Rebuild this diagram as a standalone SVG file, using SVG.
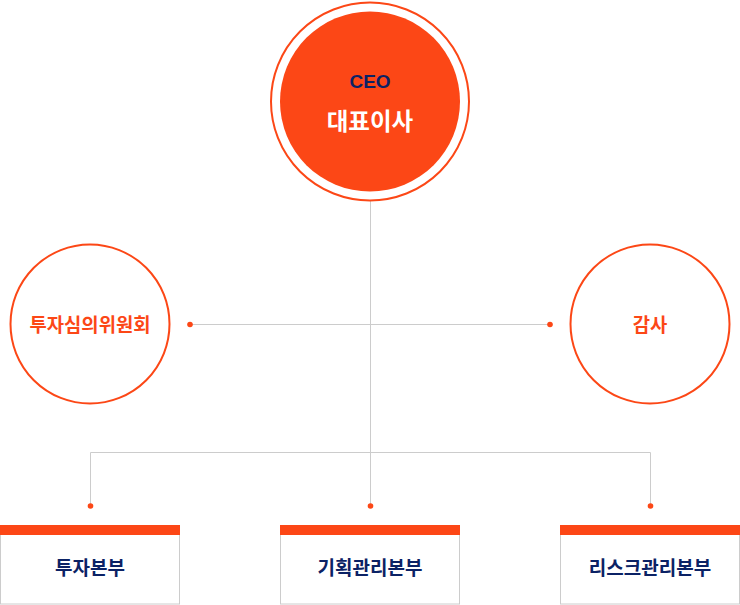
<svg xmlns="http://www.w3.org/2000/svg" width="740" height="605" viewBox="0 0 740 605">
<style>
.line{fill:none;stroke:#cccccc;stroke-width:1}
.dot{fill:#fc4716}
.ring{fill:#fff;stroke:#fc4716;stroke-width:2}
.kr{font-family:"Noto Sans CJK KR","Noto Sans",sans-serif;font-weight:bold;text-anchor:middle}
.org{fill:#fc4716;font-size:18.8px}
.navy{fill:#0b2265;font-size:19px}
.bar{fill:#fc4716}
.box{fill:#fff;stroke:#cccccc;stroke-width:1}
</style>
<rect width="740" height="605" fill="#fff"/>
<g id="connectors">
<path class="line" d="M370.5 201 V506"/>
<path class="line" d="M190 324.5 H550"/>
<path class="line" d="M90.5 506 V452.5 H650.5 V506"/>
<circle class="dot" cx="190" cy="324.5" r="2.8"/>
<circle class="dot" cx="550" cy="324.5" r="2.8"/>
<circle class="dot" cx="90.5" cy="506" r="2.8"/>
<circle class="dot" cx="370.5" cy="506" r="2.8"/>
<circle class="dot" cx="650.5" cy="506" r="2.8"/>
</g>
<g id="ceo">
<circle cx="370" cy="101.5" r="99" fill="#fff" stroke="#fc4716" stroke-width="2"/>
<circle cx="370" cy="101.5" r="90" fill="#fc4716"/>
<text x="370" y="88" font-family="'Liberation Sans',Arial,sans-serif" font-weight="bold" font-size="19" fill="#0b2265" text-anchor="middle">CEO</text>
<text x="370" y="130" class="kr" font-size="23.5" fill="#ffffff">대표이사</text>
</g>
<g id="committee">
<circle class="ring" cx="90" cy="324" r="79.5"/>
<text x="90" y="332" class="kr org">투자심의위원회</text>
</g>
<g id="audit">
<circle class="ring" cx="650" cy="324" r="79.5"/>
<text x="650" y="332" class="kr org">감사</text>
</g>
<g id="dept1">
<rect class="box" x="0.5" y="534.5" width="179" height="69.5"/>
<rect class="bar" x="0" y="525" width="180" height="10"/>
<text x="90" y="574.5" class="kr navy">투자본부</text>
</g>
<g id="dept2">
<rect class="box" x="280.5" y="534.5" width="179" height="69.5"/>
<rect class="bar" x="280" y="525" width="180" height="10"/>
<text x="370" y="574.5" class="kr navy">기획관리본부</text>
</g>
<g id="dept3">
<rect class="box" x="560.5" y="534.5" width="179" height="69.5"/>
<rect class="bar" x="560" y="525" width="180" height="10"/>
<text x="650" y="574.5" class="kr navy">리스크관리본부</text>
</g>
</svg>
